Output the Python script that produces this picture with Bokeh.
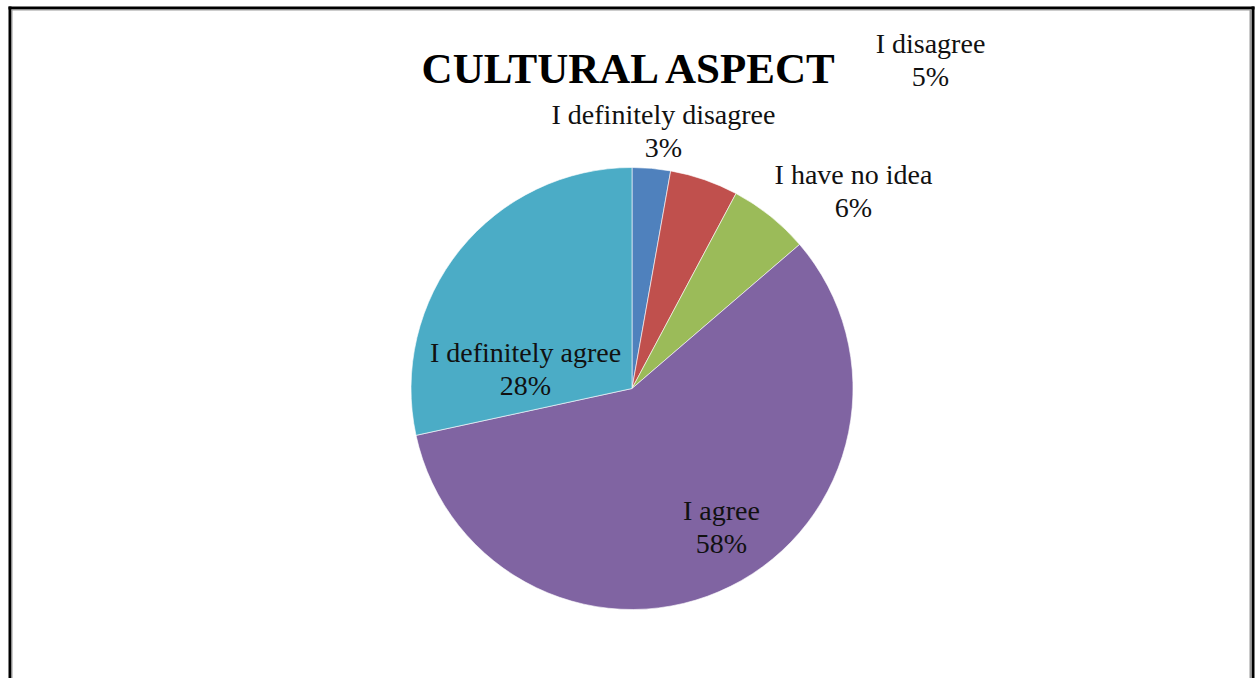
import math
from bokeh.plotting import figure
from bokeh.models import Range1d, ColumnDataSource
from bokeh.core.properties import value
from bokeh.embed import file_html
from bokeh.resources import INLINE

# ---- data ----
categories = ["I definitely disagree", "I disagree", "I have no idea", "I agree", "I definitely agree"]
shares = [2.8, 5.0, 5.9, 57.9, 28.4]          # slice sizes
percent_labels = ["3%", "5%", "6%", "58%", "28%"]
colors = ["#4F81BD", "#C0504D", "#9BBB59", "#8064A2", "#4BACC6"]
title_text = "CULTURAL ASPECT"

# ---- layout (pixels, top-left origin) ----
W, H = 1258, 678
CX, CY, R = 631.5, 388, 221
label_pos = [(663, 114), (930, 43), (853, 174), (721, 510), (525, 352)]
LINE_GAP = 33
FONT = "Liberation Serif"

def fy(py):
    return H - py

total = sum(shares)
starts, ends = [], []
acc = 0.0
for v in shares:
    a0 = math.pi / 2 - 2 * math.pi * acc / total
    acc += v
    a1 = math.pi / 2 - 2 * math.pi * acc / total
    starts.append(a0)
    ends.append(a1)

p = figure(width=W, height=H, output_backend="svg", toolbar_location=None,
           x_range=Range1d(0, W), y_range=Range1d(0, H),
           x_axis_location=None, y_axis_location=None, min_border=0)
p.grid.visible = False
p.outline_line_color = None
p.background_fill_color = "white"
p.border_fill_color = "white"

# frame border (black outer, gray inner)
def rect(x0, y0, x1, y1, color):
    p.quad(left=[x0], right=[x1], top=[fy(y0)], bottom=[fy(y1)], fill_color=color, line_color=None)

rect(8, 6, 11, H, "black")
rect(8, 6, 1254, 9, "black")
rect(1251, 6, 1254, H, "black")
rect(11, 9, 12, H, "#999999")
rect(11, 9, 1251, 10, "#999999")
rect(1249, 9, 1251, H, "#999999")

src = ColumnDataSource(dict(start=starts, end=ends, color=colors))
p.wedge(x=CX, y=fy(CY), radius=R, start_angle="start", end_angle="end",
        direction="clock", fill_color="color", line_color="white", line_width=0.6, source=src)

name_x = [lp[0] for lp in label_pos]
name_y = [fy(lp[1]) for lp in label_pos]
pct_y = [fy(lp[1] + LINE_GAP) for lp in label_pos]

p.text(x=name_x, y=name_y, text=categories, text_align="center", text_baseline="middle",
       text_font=value(FONT), text_font_size="28px", text_color="#111111")
p.text(x=name_x, y=pct_y, text=percent_labels, text_align="center", text_baseline="middle",
       text_font=value(FONT), text_font_size="28px", text_color="#111111")

p.text(x=[630], y=[fy(68)], text=[title_text], text_align="center", text_baseline="middle",
       text_font=value(FONT), text_font_size="43px", text_font_style="bold", text_color="black")

open("out.html", "w").write(file_html(p, INLINE))
